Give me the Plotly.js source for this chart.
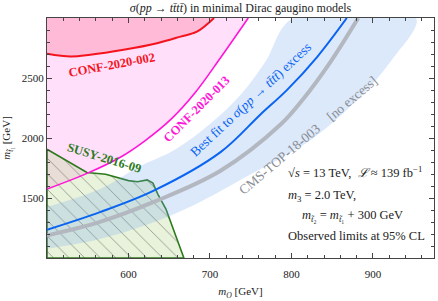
<!DOCTYPE html>
<html><head><meta charset="utf-8">
<script src="https://cdn.plot.ly/plotly-3.0.1.min.js"></script>
<style>html,body{margin:0;padding:0;background:#fff}</style>
</head><body>
<div id="c" style="width:438px;height:301px"></div>
<script>
// CONF-2020-002 (red) boundary, excluded above
const redX = [500, 529, 553, 594, 635, 664, 684, 705];
const redY = [2702, 2679, 2693, 2735, 2790, 2845, 2886, 3000];
// CONF-2020-013 (magenta) boundary, excluded above-left
const magX = [500, 547, 590, 621, 652, 682, 713, 747];
const magY = [1575, 1699, 1840, 1981, 2155, 2379, 2669, 3000];
// SUSY-2016-09 (green) excluded polygon
const susyX = [500, 549, 572, 600, 611, 623, 630, 636, 646, 655, 668, 500, 500];
const susyY = [1906, 1712, 1698, 1645, 1635, 1651, 1624, 1533, 1408, 1242, 1000, 1000, 1906];
// Best fit to sigma(pp -> tttt) excess (blue line)
const fitX = [500, 565, 631, 713, 762, 795, 832, 868];
const fitY = [1235, 1382, 1561, 1882, 2196, 2403, 2679, 3000];
// Band around best fit: upper-left and lower-right edges
const bandUpX = [500, 565, 612, 658, 701, 738, 768, 802];
const bandUpY = [1426, 1575, 1757, 1906, 2122, 2362, 2635, 3000];
const bandLoX = [953, 922, 881, 825, 740, 680, 620, 560, 500];
const bandLoY = [3000, 2640, 2320, 1990, 1660, 1440, 1270, 1150, 1077];
// CMS-TOP-18-003 [no excess] (gray line)
const cmsX = [500, 565, 631, 713, 787, 814, 848, 882];
const cmsY = [1188, 1301, 1467, 1727, 2114, 2321, 2635, 3000];
// Axes
const xTicks = [600, 700, 800, 900];
const yTicks = [1500, 2000, 2500];

const F = "Liberation Serif, Times New Roman, serif";
const traces = [
  {x: magX.concat([500]), y: magY.concat([3000]), mode: 'lines', fill: 'toself',
   fillcolor: 'rgba(255,140,232,0.28)', line: {width: 0}, hoverinfo: 'skip'},
  {x: redX.concat([500]), y: redY.concat([3000]), mode: 'lines', fill: 'toself',
   fillcolor: 'rgba(255,70,110,0.24)', line: {width: 0}, hoverinfo: 'skip'},
  {x: susyX, y: susyY, mode: 'lines', fill: 'toself',
   fillcolor: 'rgba(190,220,150,0.35)',
   fillpattern: {shape: '\\', fgcolor: 'rgba(70,70,70,0.6)', bgcolor: 'rgba(190,220,150,0.35)', size: 11, solidity: 0.07},
   line: {color: '#2d7a1e', width: 1.6}, hoverinfo: 'skip'},
  {x: bandUpX.concat(bandLoX), y: bandUpY.concat(bandLoY), mode: 'lines', fill: 'toself',
   fillcolor: 'rgba(110,165,240,0.24)', line: {width: 0, shape: 'spline'}, hoverinfo: 'skip'},
  {x: cmsX, y: cmsY, mode: 'lines', line: {color: '#b3b7bf', width: 4, shape: 'spline'}},
  {x: fitX, y: fitY, mode: 'lines', line: {color: '#0a64f2', width: 2, shape: 'spline'}},
  {x: magX, y: magY, mode: 'lines', line: {color: '#ff14d8', width: 1.6, shape: 'spline'}},
  {x: redX, y: redY, mode: 'lines', line: {color: '#f5141e', width: 2, shape: 'spline'}}
];

const ann = (x, y, text, color, size, angle, extra) => Object.assign({
  x: x, y: y, xref: 'x', yref: 'y', text: text, showarrow: false, textangle: angle,
  font: {family: F, size: size, color: color}
}, extra || {});

const layout = {
  width: 438, height: 301,
  margin: {l: 47, r: 4, t: 18, b: 43},
  paper_bgcolor: '#fff', plot_bgcolor: '#fff',
  showlegend: false,
  title: {text: '<i>σ</i>(<i>pp</i> → <i>tt\u0304tt\u0304</i>) in minimal Dirac gaugino models',
          font: {family: F, size: 12, color: '#222'}, x: 0.5, xref: 'paper', y: 0.975, yanchor: 'middle'},
  xaxis: {range: [500, 975], tickvals: xTicks, ticktext: xTicks.map(String),
          ticks: 'inside', ticklen: 5, tickcolor: '#444', showline: true, linecolor: '#444', linewidth: 1,
          mirror: 'allticks', showgrid: false, zeroline: false, ticklabelstandoff: 6,
          minor: {dtick: 20, tick0: 500, ticks: 'inside', ticklen: 3, tickcolor: '#444', showgrid: false},
          tickfont: {family: F, size: 11, color: '#222'},
          title: {text: '<i>m<sub>O</sub></i> [GeV]', font: {family: F, size: 11, color: '#222'}, standoff: 8}},
  yaxis: {range: [1000, 3000], tickvals: yTicks, ticktext: yTicks.map(String),
          ticks: 'inside', ticklen: 5, tickcolor: '#444', showline: true, linecolor: '#444', linewidth: 1,
          mirror: 'allticks', showgrid: false, zeroline: false,
          minor: {dtick: 100, tick0: 1000, ticks: 'inside', ticklen: 3, tickcolor: '#444', showgrid: false},
          tickfont: {family: F, size: 11, color: '#222'},
          title: {text: '<i>m</i><sub><i>t\u0303</i>\u2081</sub> [GeV]', font: {family: F, size: 11, color: '#222'}, standoff: 8}},
  annotations: [
    ann(580, 2610, '<b>CONF-2020-002</b>', '#f5141e', 12.5, -10.5),
    ann(684, 2240, '<b>CONF-2020-013</b>', '#ff14d8', 12.5, -45),
    ann(570, 1835, '<b>SUSY-2016-09</b>', '#2d7a1e', 12.5, 17),
    ann(750, 2320, 'Best fit to <i>σ</i>(<i>pp</i> → <i>tt\u0304tt\u0304</i>) excess', '#0a64f2', 13.5, -43),
    ann(820, 2025, 'CMS-TOP-18-003    [no excess]', '#8a8d93', 13.5, -40),
    ann(793, 1716, '√<i>s</i> = 13 TeV,  <i>ℒ</i> ≈ 139 fb<sup>−1</sup>', '#222', 12.5, 0, {xanchor: 'left'}),
    ann(793, 1517, '<i>m</i><sub>3</sub> = 2.0 TeV,', '#222', 12.5, 0, {xanchor: 'left'}),
    ann(811, 1351, '<i>m</i><sub><i>t\u0303</i>\u2082</sub> = <i>m</i><sub><i>t\u0303</i>\u2081</sub> + 300 GeV', '#222', 12.5, 0, {xanchor: 'left'}),
    ann(793, 1185, 'Observed limits at 95% CL', '#222', 12.5, 0, {xanchor: 'left'})
  ]
};
Plotly.newPlot('c', traces, layout, {staticPlot: true, displayModeBar: false});
</script>
</body></html>
